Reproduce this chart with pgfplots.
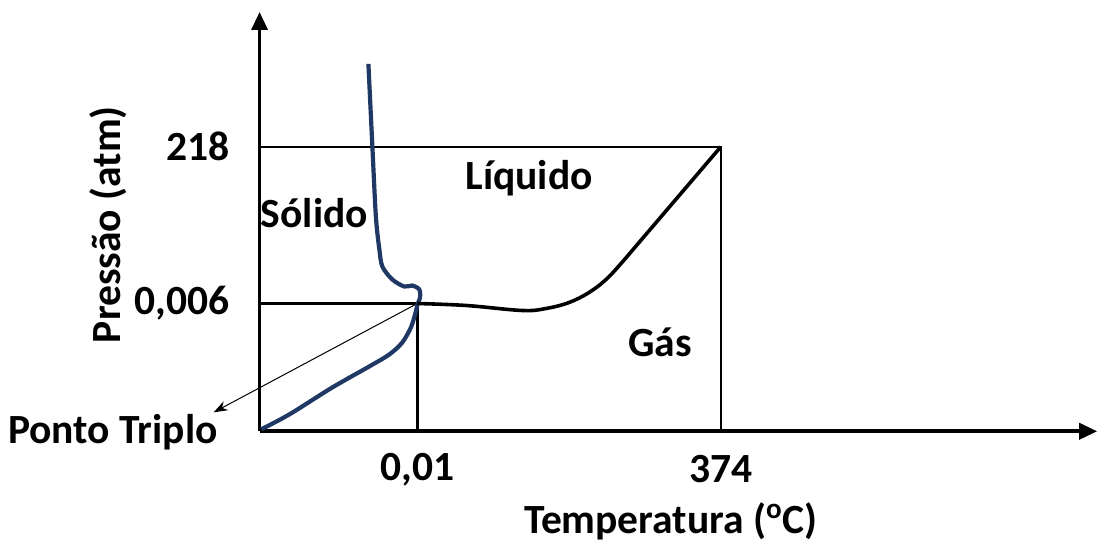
\documentclass[border=0pt]{standalone}
\usepackage{pgfplots}
\pgfplotsset{compat=1.18}
\usepackage{fontspec}
\setmainfont{Carlito}
\usetikzlibrary{arrows.meta}
\definecolor{navy}{HTML}{1F3864}
\newcommand{\lf}{\fontsize{20.8}{23}\selectfont\bfseries}
\begin{document}
\begin{tikzpicture}
\begin{axis}[
  scale only axis, width=419.5pt, height=210pt,
  xmin=0, xmax=839, ymin=0, ymax=420,
  axis lines=left,
  axis line style={line width=1.8pt, -{Triangle[length=9pt,width=8pt]}},
  clip=false,
  major tick length=0pt,
  xtick={158,462}, xticklabels={{0,01},{374}},
  ytick={128,285}, yticklabels={{0,006},{218}},
  tick label style={font=\lf, inner sep=0pt},
  xticklabel style={anchor=center, yshift=-19pt},
  yticklabel style={anchor=east, xshift=-15pt},
  /pgf/number format/assume math mode=true,
]
% invisible frame for size
\path (axis cs:-260,-113) rectangle (axis cs:839,432);
% reference lines
\addplot[black, line width=0.8pt] coordinates {(0,285) (462,285) (462,0)};
\addplot[black, line width=1.5pt] coordinates {(0,128) (158,128) (158,0)};
% thin arrow to triple point label
\addplot[black, line width=0.5pt, -{Stealth[length=7pt,width=5pt]}] coordinates {(158,128) (-46,19)};
% sublimation curve
\addplot[navy, line width=2.1pt, smooth, tension=0.5] coordinates {
 (1.7,2) (30,17) (73,44) (110,65) (130,77) (143,89) (152,105) (157,122) (158,127)};
% fusion curve
\addplot[navy, line width=2.1pt, smooth, tension=0.5] coordinates {
 (158,127) (160.7,134) (160,142) (153,146) (145,145) (133,152) (123,165) (120,182) (116.5,215) (113,285) (109,368)};
% vaporization curve
\addplot[black, line width=1.8pt, smooth, tension=0.6] coordinates {
 (158,128) (207,126) (263,121) (287,123) (310,129) (330,139) (347,152) (362,168) (380,189) (462,285)};
% region labels
\node[font=\lf] at (axis cs:55,219) {Sólido};
\node[font=\lf] at (axis cs:270,254) {Líquido};
\node[font=\lf] at (axis cs:401,89) {Gás};
\node[font=\lf] at (axis cs:-147,-1) {Ponto Triplo};
\node[font=\lf, rotate=90] at (axis cs:-152,207) {Pressão (atm)};
\node[font=\lf] at (axis cs:412,-90) {Temperatura (\textsuperscript{o}C)};
\end{axis}
\end{tikzpicture}
\end{document}
